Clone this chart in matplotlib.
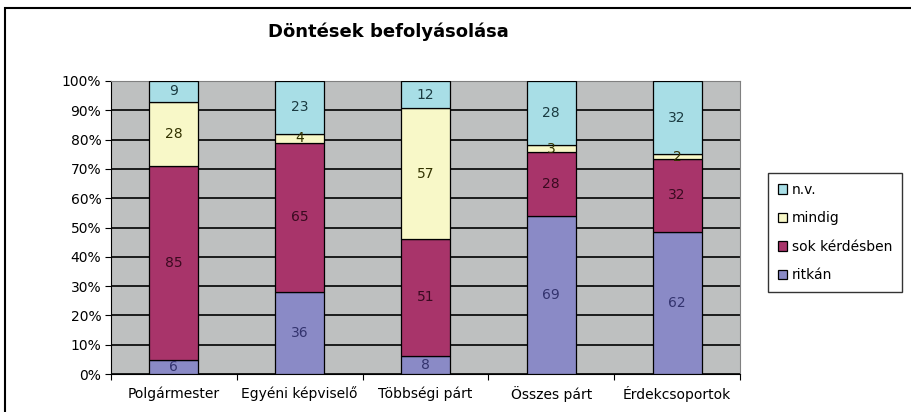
#!/usr/bin/env python3
"""100% stacked bar chart: Döntések befolyásolása."""

import matplotlib
matplotlib.use("Agg")
import matplotlib.pyplot as plt
import numpy as np
from matplotlib.patches import Rectangle

plt.rcParams["font.family"] = ["DejaVu Sans"]

categories = ["Polgármester", "Egyéni képviselő", "Többségi párt",
              "Összes párt", "Érdekcsoportok"]
series_names = ["ritkán", "sok kérdésben", "mindig", "n.v."]
ritkan = [6, 36, 8, 69, 62]
sok_kerdesben = [85, 65, 51, 28, 32]
mindig = [28, 4, 57, 3, 2]
nv = [9, 23, 12, 28, 32]

colors = ["#8A8AC6", "#A8346A", "#F8F8C8", "#A8DEE6"]
text_colors = ["#33336E", "#3A0A20", "#333300", "#1A3A40"]

series = [ritkan, sok_kerdesben, mindig, nv]
data = np.array(series, dtype=float)
totals = data.sum(axis=0)
pct = data / totals * 100

fig = plt.figure(figsize=(9.11, 4.12), dpi=100)
fig.patches.append(Rectangle((5 / 911, -0.05), 1.1, 1.05 - 8 / 412,
                             transform=fig.transFigure, fill=False,
                             edgecolor="black", linewidth=1.5))

ax = fig.add_axes([111 / 911, 38 / 412, (740 - 111) / 911, (374 - 81) / 412])
ax.set_facecolor("#BEC0C0")

x = np.arange(len(categories))
bottom = np.zeros(len(categories))
handles = []
for vals, raw, name, col, tcol in zip(pct, data, series_names, colors, text_colors):
    bars = ax.bar(x, vals, width=0.39, bottom=bottom, color=col,
                  edgecolor="black", linewidth=0.9, label=name, zorder=3)
    handles.append(bars)
    for xi, b, v, r in zip(x, bottom, vals, raw):
        ax.text(xi, b + v / 2, f"{int(r)}", ha="center", va="center",
                fontsize=10, color=tcol, zorder=4)
    bottom += vals

ax.set_xlim(-0.5, len(categories) - 0.5)
ax.set_ylim(0, 100)
ax.set_yticks(np.arange(0, 101, 10))
ax.set_yticklabels([f"{v}%" for v in range(0, 101, 10)], fontsize=10)
ax.yaxis.grid(True, color="black", linewidth=1.2, zorder=1)
ax.set_axisbelow(True)

ax.set_xticks(np.arange(-0.5, len(categories), 1.0), minor=False)
ax.set_xticklabels([])
ax.set_xticks(x, minor=True)
ax.set_xticklabels(categories, minor=True, fontsize=10)
ax.tick_params(axis="x", which="minor", length=0, pad=9)
ax.tick_params(axis="x", which="major", length=4, direction="out")
ax.tick_params(axis="y", length=4, direction="out", pad=3)

for side in ["top", "right"]:
    ax.spines[side].set_color("#808080")
ax.spines["left"].set_color("black")
ax.spines["bottom"].set_color("black")

fig.text(388 / 911, 1 - 32 / 412, "Döntések befolyásolása", ha="center",
         va="center", fontsize=13, fontweight="bold")

leg = fig.legend(handles[::-1], series_names[::-1], loc="upper left",
                 bbox_to_anchor=(768 / 911, 1 - 173 / 412), fontsize=10,
                 frameon=True, fancybox=False, edgecolor="black",
                 handlelength=0.7, handleheight=0.7, handletextpad=0.3,
                 labelspacing=1.05, borderpad=0.7, borderaxespad=0)
leg.get_frame().set_linewidth(1.0)

fig.savefig("out.png", dpi=100)
